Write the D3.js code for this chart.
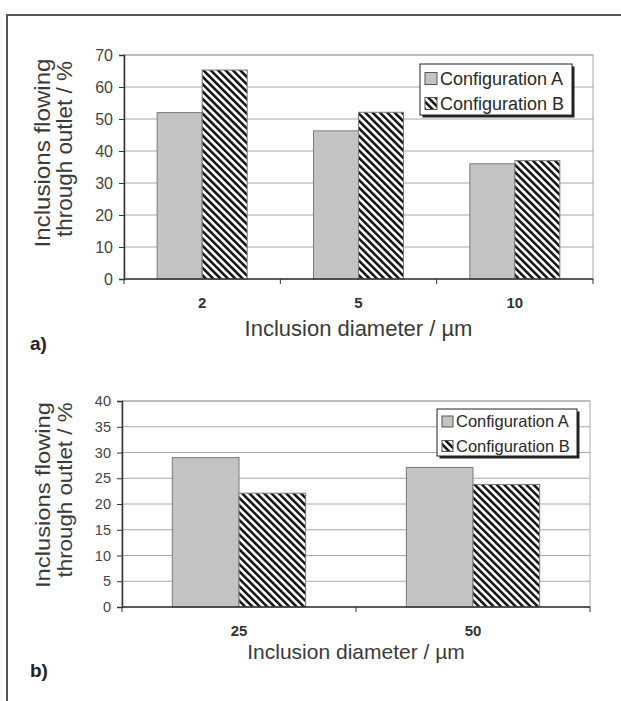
<!DOCTYPE html>
<html>
<head>
<meta charset="utf-8">
<script src="https://cdnjs.cloudflare.com/ajax/libs/d3/7.8.5/d3.min.js"></script>
<style>
  body { margin: 0; background: #fff; }
  svg { display: block; font-family: "Liberation Sans", Arial, sans-serif; }
</style>
</head>
<body>
<div id="chart"></div>
<script>
////////////////////////////////////////////////////////////////////////
// Data

let seriesNames = ["Configuration A", "Configuration B"];

// panel a)
let diametersA = ["2", "5", "10"];
let configA_a = [52, 46.3, 36];
let configB_a = [65.3, 52.1, 37];
let yTicks_a = [0, 10, 20, 30, 40, 50, 60, 70];

// panel b)
let diametersB = ["25", "50"];
let configA_b = [29, 27.1];
let configB_b = [22.1, 23.8];
let yTicks_b = [0, 5, 10, 15, 20, 25, 30, 35, 40];

let width = 621;
let height = 701;

let svg = d3.select("#chart")
  .append("svg")
  .attr("width", width)
  .attr("height", height);

// hatch pattern for configuration B
let defs = svg.append("defs");
defs.append("pattern")
  .attr("id", "hatch")
  .attr("patternUnits", "userSpaceOnUse")
  .attr("width", 5.2)
  .attr("height", 5.2)
  .attr("patternTransform", "rotate(-45)")
  .call(p => {
    p.append("rect").attr("width", 5.2).attr("height", 5.2).attr("fill", "#fff");
    p.append("rect").attr("width", 2.5).attr("height", 5.2).attr("fill", "#111");
  });

// outer frame (top and left edges only)
svg.append("path")
  .attr("d", "M7,701 L7,15 L621,15")
  .attr("fill", "none")
  .attr("stroke", "#555")
  .attr("stroke-width", 2);

////////////////////////////////////////////////////////////////////////
// one panel of the figure

function drawPanel(opt) {
  let g = svg.append("g");

  let yScale = d3.scaleLinear()
    .domain([opt.yTicks[0], opt.yTicks[opt.yTicks.length - 1]])
    .range([opt.bottom, opt.top]);

  let x0 = d3.scaleBand()
    .domain(opt.cats)
    .range([opt.left, opt.right])
    .padding(0);

  let x1 = d3.scaleBand()
    .domain(seriesNames)
    .range([0, x0.bandwidth()])
    .paddingInner(0)
    .paddingOuter(opt.outer);

  // plot area
  g.append("rect")
    .attr("x", opt.left).attr("y", opt.top)
    .attr("width", opt.right - opt.left)
    .attr("height", opt.bottom - opt.top)
    .attr("fill", "#fff")
    .attr("stroke", "#a8a8a8")
    .attr("stroke-width", 1);

  // gridlines
  g.append("g")
    .selectAll("line")
    .data(opt.yTicks.slice(1))
    .enter()
    .append("line")
    .attr("x1", opt.left).attr("x2", opt.right)
    .attr("y1", d => yScale(d)).attr("y2", d => yScale(d))
    .attr("stroke", "#a8a8a8")
    .attr("stroke-width", 1);

  // bars
  let rows = opt.cats.map((c, i) => ({ cat: c, vals: [opt.a[i], opt.b[i]] }));
  g.append("g")
    .selectAll("g")
    .data(rows)
    .enter()
    .append("g")
    .attr("transform", d => `translate(${x0(d.cat)},0)`)
    .selectAll("rect")
    .data(d => d.vals.map((v, k) => ({ key: seriesNames[k], v: v })))
    .enter()
    .append("rect")
    .attr("x", d => x1(d.key))
    .attr("y", d => yScale(d.v))
    .attr("width", x1.bandwidth())
    .attr("height", d => opt.bottom - yScale(d.v))
    .attr("fill", d => d.key == seriesNames[0] ? "#c3c3c3" : "url(#hatch)")
    .attr("stroke", "#7a7a7a")
    .attr("stroke-width", 1);

  // y axis
  let yAxis = d3.axisLeft(yScale)
    .tickValues(opt.yTicks)
    .tickSize(5)
    .tickPadding(6);
  let ya = g.append("g")
    .attr("transform", `translate(${opt.left},0)`)
    .call(yAxis);
  ya.select(".domain").attr("stroke", "#333").attr("stroke-width", 1.5);
  ya.selectAll(".tick line").attr("stroke", "#333");
  ya.selectAll("text")
    .attr("fill", "#444")
    .style("font-size", opt.tickFont + "px")
    .style("font-family", "'Liberation Sans', Arial, sans-serif");

  // x axis: ticks at category boundaries, labels at centers
  let xa = g.append("g");
  xa.append("line")
    .attr("x1", opt.left).attr("x2", opt.right)
    .attr("y1", opt.bottom).attr("y2", opt.bottom)
    .attr("stroke", "#333").attr("stroke-width", 1.5);
  let bounds = opt.cats.map(c => x0(c)).concat([opt.right]);
  xa.selectAll(".xt")
    .data(bounds)
    .enter()
    .append("line")
    .attr("x1", d => d).attr("x2", d => d)
    .attr("y1", opt.bottom).attr("y2", opt.bottom + 5)
    .attr("stroke", "#333");
  xa.selectAll("text")
    .data(opt.cats)
    .enter()
    .append("text")
    .attr("x", d => x0(d) + x0.bandwidth() / 2)
    .attr("y", opt.catY)
    .attr("text-anchor", "middle")
    .attr("font-weight", "bold")
    .attr("font-size", opt.catFont)
    .attr("fill", "#333")
    .text(d => d);

  // axis titles
  g.append("text")
    .attr("x", (opt.left + opt.right) / 2)
    .attr("y", opt.titleY)
    .attr("text-anchor", "middle")
    .attr("font-size", opt.titleFont)
    .attr("fill", "#3a3a3a")
    .text("Inclusion diameter / µm");

  let ylab = ["Inclusions flowing", "through outlet / %"];
  g.selectAll(".ylab")
    .data(ylab)
    .enter()
    .append("text")
    .attr("transform", (d, i) => `translate(${opt.ylabX[i]},${opt.ylabY[i]}) rotate(-90)`)
    .attr("text-anchor", "middle")
    .attr("font-size", opt.titleFont)
    .attr("textLength", (d, i) => opt.ylabLen[i])
    .attr("lengthAdjust", "spacingAndGlyphs")
    .attr("fill", "#3a3a3a")
    .text(d => d);

  // panel letter
  g.append("text")
    .attr("x", 30)
    .attr("y", opt.letterY)
    .attr("font-size", 19)
    .attr("font-weight", "bold")
    .attr("fill", "#222")
    .text(opt.letter);

  // legend with drop shadow
  let lg = g.append("g");
  lg.append("rect")
    .attr("x", opt.legend.x + 2.5).attr("y", opt.legend.y + 2.5)
    .attr("width", opt.legend.w).attr("height", opt.legend.h)
    .attr("fill", "#222");
  lg.append("rect")
    .attr("x", opt.legend.x).attr("y", opt.legend.y)
    .attr("width", opt.legend.w).attr("height", opt.legend.h)
    .attr("fill", "#fff")
    .attr("stroke", "#222").attr("stroke-width", 1);
  let items = lg.selectAll(".item")
    .data(seriesNames)
    .enter()
    .append("g")
    .attr("transform", (d, i) => `translate(${opt.legend.x + 5},${opt.legend.rows[i]})`);
  items.append("rect")
    .attr("x", 0).attr("y", -opt.legend.sw / 2)
    .attr("width", opt.legend.sw).attr("height", opt.legend.sw)
    .attr("fill", (d, i) => i == 0 ? "#c3c3c3" : "url(#hatch)")
    .attr("stroke", "#555");
  items.append("text")
    .attr("x", opt.legend.sw + 3)
    .attr("y", 0)
    .attr("dy", "0.36em")
    .attr("font-size", opt.legend.font)
    .attr("fill", "#2a2a2a")
    .text(d => d);
}

drawPanel({
  cats: diametersA, a: configA_a, b: configB_a, yTicks: yTicks_a,
  left: 124, right: 593, top: 55, bottom: 279, outer: 0.737,
  tickFont: 16, catFont: 15, catY: 308, titleFont: 22, titleY: 336,
  ylabX: [50, 72], ylabY: [153, 149], ylabLen: [189, 176],
  letter: "a)", letterY: 350,
  legend: { x: 420, y: 64, w: 152, h: 51, rows: [78.5, 103.5], sw: 12, font: 18 }
});

drawPanel({
  cats: diametersB, a: configA_b, b: configB_b, yTicks: yTicks_b,
  left: 122, right: 590, top: 401, bottom: 607, outer: 0.755,
  tickFont: 14.5, catFont: 15, catY: 636, titleFont: 21, titleY: 659,
  ylabX: [50, 72], ylabY: [495, 490], ylabLen: [186, 175],
  letter: "b)", letterY: 677,
  legend: { x: 437, y: 409, w: 140, h: 47, rows: [421.5, 446], sw: 11, font: 16.5 }
});
</script>
</body>
</html>
